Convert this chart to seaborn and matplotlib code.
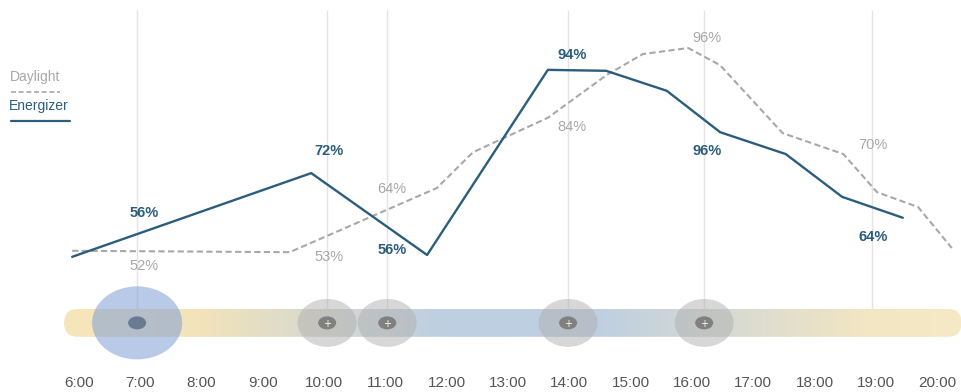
import numpy as np
import pandas as pd
import matplotlib
matplotlib.use("Agg")
import matplotlib.pyplot as plt
import seaborn as sns
from matplotlib.patches import Ellipse, FancyBboxPatch
from matplotlib.colors import LinearSegmentedColormap
from matplotlib.lines import Line2D

# ---------------- data ----------------
energizer_hours = [5.89, 9.79, 11.68, 13.65, 14.60, 15.59, 16.46, 17.53, 18.45, 19.44]
energizer_values = [51.1, 69.1, 51.5, 91.3, 91.1, 86.8, 77.9, 73.2, 64.0, 59.5]
daylight_hours = [5.89, 9.44, 11.84, 12.43, 13.65, 14.61, 15.20, 15.94, 16.46, 17.48,
                  18.47, 19.02, 19.69, 20.24]
daylight_values = [52.4, 52.1, 65.9, 73.6, 81.0, 90.2, 94.7, 96.0, 92.3, 77.7,
                   73.2, 65.0, 61.8, 53.0]
tick_hours = list(range(6, 21))
tick_labels = [f"{h}:00" for h in tick_hours]
marker_hours = [6.95, 10.05, 11.03, 13.98, 16.2, 18.94]
event_hours = [10.05, 11.03, 13.98, 16.2]
main_event_hour = 6.95
energizer_labels = ["56%", "72%", "56%", "94%", "96%", "64%"]
daylight_labels = ["52%", "53%", "64%", "84%", "96%", "70%"]

# label placement (layout)
label_x = [7.06, 10.08, 11.11, 14.04, 16.25, 18.95]
energizer_label_y = [60.5, 73.9, 52.6, 94.5, 73.9, 55.4]
daylight_label_y = [49.1, 51.1, 65.7, 79.0, 98.2, 75.1]

BLUE = "#2b5d7c"
GRAY = "#a8a8a8"

sns.set_style("white")
plt.rcParams["font.family"] = ["Liberation Sans", "DejaVu Sans"]

fig = plt.figure(figsize=(9.62, 3.92), dpi=100)
ax = fig.add_axes([0, 0, 1, 1])
ax.set_xlim(4.713, 20.406)
ax.set_ylim(22.04, 106.32)
ax.axis("off")

# vertical guide lines
ax.vlines(marker_hours, 39.9, 104.2, color="#e4e4e4", lw=1.0, zorder=1)

# timeline bar with gradient
bx0, bx1, by0, bh = 5.757, 20.40, 33.9, 6.0
bar = FancyBboxPatch((bx0, by0), bx1 - bx0, bh,
                     boxstyle="round,pad=0,rounding_size=0.228",
                     mutation_aspect=13.2, facecolor="none", edgecolor="none")
ax.add_patch(bar)
cmap = LinearSegmentedColormap.from_list(
    "bar", [(0.0, "#f7e6bc"), (0.15, "#f2e3bb"), (0.42, "#bdcfe2"),
            (0.60, "#bfd0e1"), (0.90, "#f3e6c2"), (1.0, "#f6e9c6")])
grad = np.linspace(0, 1, 512).reshape(1, -1)
im = ax.imshow(grad, extent=[bx0, bx1, by0, by0 + bh], aspect="auto",
               cmap=cmap, zorder=2, interpolation="bilinear")
im.set_clip_path(bar)
ax.set_xlim(4.713, 20.406)
ax.set_ylim(22.04, 106.32)

# event circles
ax.add_patch(Ellipse((main_event_hour, 36.9), 1.468, 15.7, facecolor="#7f9fd6",
                     alpha=0.55, edgecolor="none", zorder=3))
ax.add_patch(Ellipse((main_event_hour, 36.9), 0.294, 2.8, facecolor="#6b7a94",
                     edgecolor="none", zorder=4))
for h in event_hours:
    ax.add_patch(Ellipse((h, 36.9), 0.962, 10.3, facecolor="#b0b0b0",
                         alpha=0.5, edgecolor="none", zorder=3))
    ax.add_patch(Ellipse((h, 36.9), 0.294, 2.8, facecolor="#808080",
                         edgecolor="none", zorder=4))
    ax.text(h, 36.7, "+", color="#fffbe8", fontsize=7, ha="center", va="center",
            zorder=5, family="DejaVu Sans")

# lines
df_e = pd.DataFrame({"hour": energizer_hours, "value": energizer_values})
df_d = pd.DataFrame({"hour": daylight_hours, "value": daylight_values})
sns.lineplot(data=df_d, x="hour", y="value", ax=ax, color=GRAY, lw=1.5, zorder=5)
ax.lines[-1].set_dashes((3, 1.6))
sns.lineplot(data=df_e, x="hour", y="value", ax=ax, color=BLUE, lw=1.7, zorder=6)
ax.set_xlim(4.713, 20.406)
ax.set_ylim(22.04, 106.32)
ax.axis("off")

# value labels
for x, y, t in zip(label_x, energizer_label_y, energizer_labels):
    ax.text(x, y, t, color=BLUE, fontsize=10.5, fontweight="bold",
            ha="center", va="center", zorder=7)
for x, y, t in zip(label_x, daylight_label_y, daylight_labels):
    ax.text(x, y, t, color=GRAY, fontsize=10.5, ha="center", va="center", zorder=7)

# tick labels
for h, t in zip(tick_hours, tick_labels):
    ax.text(h, 24.0, t, color="#555555", fontsize=11, ha="center", va="center")

# legend
fig.text(10 / 962, 1 - 77 / 392, "Daylight", color=GRAY, fontsize=10,
         ha="left", va="center")
fig.add_artist(Line2D([11 / 962, 60 / 962], [1 - 92 / 392] * 2, color=GRAY,
                      lw=1.2, dashes=(3, 1.6), transform=fig.transFigure))
fig.text(9 / 962, 1 - 106 / 392, "Energizer", color=BLUE, fontsize=10,
         ha="left", va="center")
fig.add_artist(Line2D([11 / 962, 70 / 962], [1 - 121 / 392] * 2, color=BLUE,
                      lw=1.6, transform=fig.transFigure))

fig.savefig("out.png", dpi=100)
